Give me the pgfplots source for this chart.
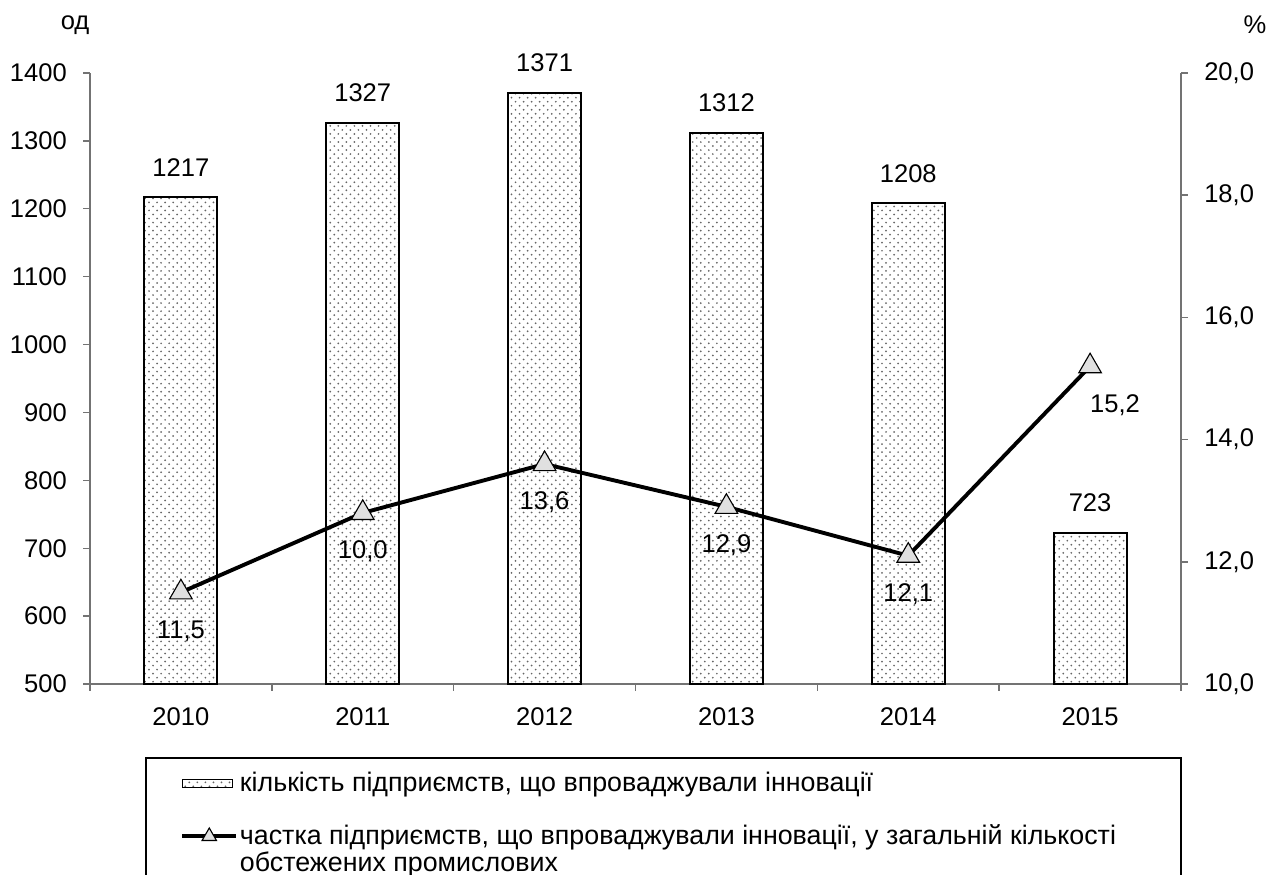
\documentclass[border=0pt]{standalone}
\usepackage{fontspec}
\setmainfont{Liberation Sans}
\usepackage{pgfplots}
\pgfplotsset{compat=1.18}
\usetikzlibrary{patterns}
\pgfdeclarepatternformonly{smalldots}{\pgfpoint{-0.5pt}{-0.5pt}}{\pgfpoint{3.4pt}{3.4pt}}{\pgfpoint{2.9pt}{2.9pt}}{%
 \pgfpathcircle{\pgfpoint{0pt}{0pt}}{0.35pt}%
 \pgfpathcircle{\pgfpoint{1.45pt}{1.45pt}}{0.35pt}%
 \pgfusepath{fill}}
\definecolor{axisgray}{gray}{0.45}
\pgfplotsset{
  common/.style={
    scale only axis, width=392.8pt, height=220pt,
    xmin=-0.5, xmax=5.5,
    clip=false,
    tick align=outside,
    major tick length=2.5pt,
    minor tick length=2.5pt,
    axis line style={draw=axisgray, line width=0.5pt},
    every tick/.style={draw=axisgray, line width=0.5pt},
    /pgf/number format/1000 sep={},
    /pgf/number format/assume math mode=true,
  }
}
\begin{document}
\fontsize{9.2pt}{11pt}\selectfont
\begin{tikzpicture}
\begin{axis}[
  common,
  ymin=500, ymax=1400,
  axis x line*=bottom, axis y line*=left,
  ytick={500,600,...,1400},
  xtick={0,1,2,3,4,5},
  xticklabels={2010,2011,2012,2013,2014,2015},
  minor xtick={-0.5,0.5,1.5,2.5,3.5,4.5,5.5},
  major x tick style={draw=none},
  xticklabel style={anchor=center, yshift=-9.4pt},
  yticklabel style={xshift=-2.6pt},
  ybar, bar width=26.3pt,
  nodes near coords,
  every node near coord/.append style={anchor=center, yshift=10.8pt, font=\fontsize{9.2pt}{11pt}\selectfont},
]
\addplot[pattern=smalldots, pattern color=black!60, draw=black, line width=0.75pt]
  coordinates {(0,1217) (1,1327) (2,1371) (3,1312) (4,1208) (5,723)};
\coordinate (O) at (rel axis cs:0,0);
\coordinate (T) at (rel axis cs:1,1);
\node at (axis description cs:-0.0137,1.0786) {од};
\end{axis}
\begin{axis}[
  common,
  ymin=10, ymax=20,
  axis y line*=right, axis x line=none,
  ytick={10,12,...,20},
  yticklabel style={xshift=2.6pt, /pgf/number format/.cd, fixed, fixed zerofill, precision=1, use comma},
  legend style={at={(axis description cs:0.0504,-0.1195)}, anchor=north west,
    draw=black, line width=0.6pt, inner xsep=12.4pt, inner ysep=3.1pt, row sep=6.5pt,
    font=\fontsize{9.65pt}{10pt}\selectfont,
    nodes={inner xsep=0.6pt},
    /tikz/every even column/.append style={column sep=0pt}},
  legend cell align=left,
]
\addlegendimage{legend image code/.code={\draw[pattern=smalldots, pattern color=black!60, draw=black, line width=0.4pt] (0pt,-1.5pt) rectangle (18pt,1.5pt);}}
\addlegendentry{кількість підприємств, що впроваджували інновації}
\addlegendimage{legend image code/.code={\draw[line width=1.4pt] (0pt,0pt) -- (19.5pt,0pt);
  \path plot[mark=triangle*, mark size=3pt, mark options={fill=black!12, draw=black, line width=0.4pt}] coordinates {(9.75pt,0pt)};}}
\addlegendentry{\parbox[t]{325.8pt}{\baselineskip=9.7pt частка підприємств, що впроваджували інновації, у загальній кількості\\обстежених промислових}}
\addlegendimage{empty legend}
\addlegendentry{\rule{0pt}{12pt}}
\addplot[black, line width=1.4pt, mark=triangle*, mark size=4.7pt,
  mark options={fill=black!12, draw=black, line width=0.4pt},
  nodes near coords, point meta=explicit symbolic,
  every node near coord/.append style={anchor=center, yshift=-13.9pt, font=\fontsize{9.2pt}{11pt}\selectfont}]
  coordinates {(0,11.5)[11,5] (1,12.8)[10,0] (2,13.6)[13,6] (3,12.9)[12,9] (4,12.1)[12,1] (5,15.2)[]};
\addplot[draw=none, mark=none, forget plot,
  nodes near coords, point meta=explicit symbolic,
  every node near coord/.append style={anchor=center, xshift=9pt, yshift=-14pt, font=\fontsize{9.2pt}{11pt}\selectfont}]
  coordinates {(5,15.2)[15,2]};
\node at (axis description cs:1.0678,1.0786) {\%};
\end{axis}
\pgfresetboundingbox
\path[use as bounding box] ([shift={(-32.4pt,-68.76pt)}]O) rectangle ([shift={(32.4pt,26.28pt)}]T);
\end{tikzpicture}
\end{document}
